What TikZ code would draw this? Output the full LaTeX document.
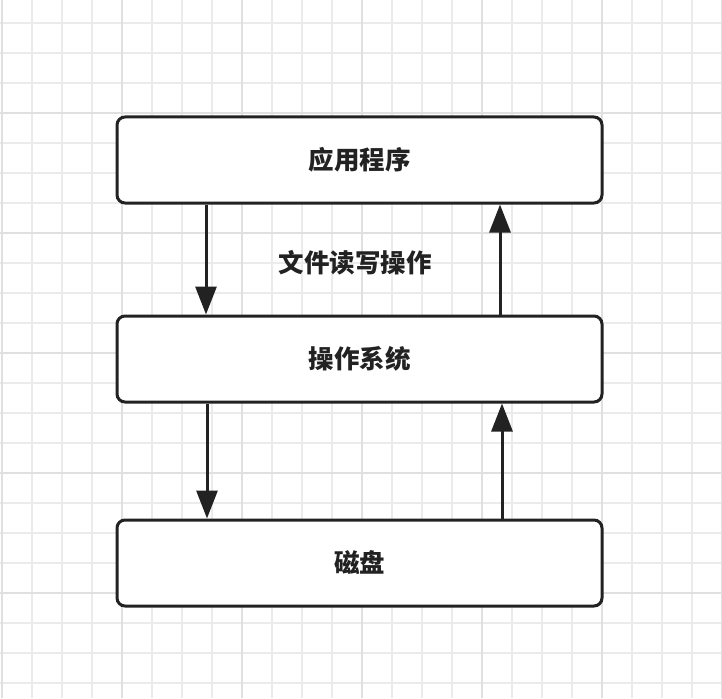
\documentclass[tikz,border=0pt]{standalone}
\usepackage{fontspec}
\newfontfamily\cjk{Noto Sans CJK SC}
\usetikzlibrary{arrows.meta}
\definecolor{ink}{HTML}{222222}
\definecolor{gridminor}{HTML}{EBEBEB}
\definecolor{gridmajor}{HTML}{E0E0E0}
\begin{document}
\begin{tikzpicture}[x=1pt, y=-1pt,
    layer/.style={rectangle, rounded corners=8pt, draw=ink, line width=3pt, fill=white,
        minimum width=485pt, minimum height=86pt, font=\cjk\bfseries\fontsize{25.5}{30}\selectfont, text=ink},
    arr/.style={draw=ink, line width=3pt, -{Triangle[length=28pt, width=21pt]}}]
\useasboundingbox (0,0) rectangle (722,698);
\fill[white] (0,0) rectangle (722,698);
% Background grid
\foreach \x in {1.7, 31.7, ..., 722}
    \draw[gridminor, line width=1.8pt] (\x,0) -- (\x,698);
\foreach \y in {22.7, 52.7, ..., 698}
    \draw[gridminor, line width=1.8pt] (0,\y) -- (722,\y);
\foreach \x in {1.7, 121.7, ..., 722}
    \draw[gridmajor, line width=1.8pt] (\x,0) -- (\x,698);
\foreach \y in {112.7, 232.7, ..., 698}
    \draw[gridmajor, line width=1.8pt] (0,\y) -- (722,\y);
% Layers
\node[layer] (app) at (359.5, 160) {应用程序};
\node[layer] (os) at (359.5, 359) {操作系统};
\node[layer] (disk) at (359.5, 563) {磁盘};
% Label
\node[font=\cjk\bfseries\fontsize{25.5}{30}\selectfont, text=ink] (io) at (355, 263) {文件读写操作};
% Arrows
\draw[arr] ([xshift=-153.5pt]app.south) -- ([xshift=-153.5pt]os.north);
\draw[arr] ([xshift=140.5pt]os.north) -- ([xshift=140.5pt]app.south);
\draw[arr] ([xshift=-152.5pt]os.south) -- ([xshift=-152.5pt]disk.north);
\draw[arr] ([xshift=142.5pt]disk.north) -- ([xshift=142.5pt]os.south);
\end{tikzpicture}
\end{document}
